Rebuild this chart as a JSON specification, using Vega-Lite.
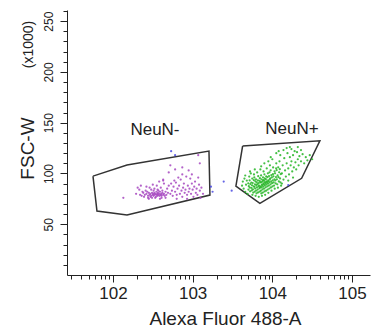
{
  "$schema": "https://vega.github.io/schema/vega-lite/v6.json",
  "autosize": "none",
  "width": 303,
  "height": 265,
  "padding": {"left": 67, "top": 10, "right": 5, "bottom": 54},
  "background": "white",
  "config": {"view": {"stroke": null}, "font": "Liberation Sans"},
  "resolve": {"axis": {"x": "independent", "y": "independent"}},
  "layer": [
    {
      "data": {
        "values": "g,o,x,y\nneg,1,1.749,97.4\nneg,2,2.176,108.3\nneg,3,3.205,122\nneg,4,3.217,78.7\nneg,5,2.176,59.1\nneg,6,1.799,63\nneg,7,1.749,97.4\npos,1,3.627,127\npos,2,4.597,132.2\npos,3,4.368,95.2\npos,4,3.844,70.6\npos,5,3.543,87.6\npos,6,3.627,127",
        "format": {"type": "csv", "parse": {"o": "number", "x": "number", "y": "number"}}
      },
      "mark": {"type": "line", "color": "#333333", "strokeWidth": 1.5},
      "encoding": {
        "x": {
          "field": "x", "type": "quantitative",
          "scale": {"domain": [1.423, 5.226], "nice": false, "zero": false},
          "axis": {
            "orient": "bottom", "values": [2, 3, 4, 5], "labelExpr": "'10' + datum.value",
            "tickSize": 7, "tickColor": "#222", "domainColor": "#222", "grid": false,
            "labelFont": "Liberation Sans", "labelFontSize": 17, "labelColor": "#222", "labelPadding": 3,
            "title": "Alexa Fluor 488-A", "titleFont": "Liberation Sans", "titleFontSize": 19,
            "titleFontWeight": "normal", "titleColor": "#222", "titleX": 158, "titleY": 43, "titleBaseline": "middle"
          }
        },
        "y": {
          "field": "y", "type": "quantitative",
          "scale": {"domain": [0, 261], "nice": false},
          "axis": {
            "orient": "left", "values": [50, 100, 150, 200, 250],
            "tickSize": 7, "tickColor": "#222", "domainColor": "#222", "grid": false,
            "labelFont": "Liberation Sans", "labelFontSize": 12, "labelColor": "#222",
            "labelAngle": -90, "labelAlign": "center", "labelBaseline": "bottom", "labelPadding": 5,
            "title": "FSC-W", "titleFont": "Liberation Sans", "titleFontSize": 19, "titleFontWeight": "normal",
            "titleColor": "#222", "titleX": -40, "titleY": 138, "titleBaseline": "middle", "titleAngle": -90
          }
        },
        "detail": {"field": "g"},
        "order": {"field": "o"}
      }
    },
    {
      "data": {
        "values": "s,x,y\np,2.40,79\np,2.42,80\np,2.44,78\np,2.45,81\np,2.46,79\np,2.47,80\np,2.48,78\np,2.49,81\np,2.50,79\np,2.505,80\np,2.51,78\np,2.52,81\np,2.525,79\np,2.53,80\np,2.54,77\np,2.545,82\np,2.55,79\np,2.555,80\np,2.56,78\np,2.565,81\np,2.57,79\np,2.58,80\np,2.585,78\np,2.59,82\np,2.60,79\np,2.605,80\np,2.61,78\np,2.62,81\np,2.63,79\np,2.64,80\np,2.65,78\np,2.66,82\np,2.43,82\np,2.47,77\np,2.51,83\np,2.53,76\np,2.57,83\np,2.61,76\np,2.38,81\np,2.36,78\np,2.39,77\np,2.41,83\np,2.44,76\np,2.48,84\np,2.52,85\np,2.56,84\np,2.49,76\np,2.62,83\np,2.67,79\np,2.69,81\np,2.31,86\np,2.33,84\np,2.35,88\np,2.37,82\np,2.29,80\np,2.42,87\np,2.46,86\np,2.55,88\np,2.60,86\np,2.64,90\np,2.58,92\np,2.68,85\np,2.70,88\np,2.63,93\np,2.50,89\np,2.34,79\np,2.45,75\np,2.59,75\np,2.66,76\np,2.72,80\np,2.74,83\np,2.75,78\np,2.76,87\np,2.78,82\np,2.79,91\np,2.80,79\np,2.81,85\np,2.83,88\np,2.84,80\np,2.85,94\np,2.86,83\np,2.87,77\np,2.88,86\np,2.89,90\np,2.90,81\np,2.91,84\np,2.92,97\np,2.93,79\np,2.94,88\np,2.95,82\np,2.96,85\np,2.97,95\np,2.98,80\np,2.99,90\np,3.00,84\np,3.01,77\np,3.02,87\np,3.03,92\np,3.04,81\np,3.05,85\np,3.06,79\np,3.08,89\np,3.09,83\np,3.10,76\np,3.11,86\np,3.13,80\np,2.82,96\np,2.77,93\np,2.73,90\np,2.87,99\np,2.99,99\np,3.07,96\np,2.93,75\np,2.80,75\np,2.63,94\np,2.72,108\np,2.87,106\np,3.07,118\np,3.09,110\np,2.70,101\np,2.95,103\np,2.78,104\np,2.13,76\nb,2.73,122\nb,2.78,118\nb,3.23,87\nb,3.25,82\nb,3.39,92\nb,3.49,83\nb,4.20,88.6\ng,3.70,84.2\ng,3.705,87.5\ng,3.698,90.3\ng,3.721,82.4\ng,3.717,86.1\ng,3.724,89.6\ng,3.715,93.2\ng,3.742,83.3\ng,3.738,85.8\ng,3.745,88.4\ng,3.736,91.1\ng,3.748,95.0\ng,3.761,81.2\ng,3.757,84.4\ng,3.765,87.3\ng,3.754,90.6\ng,3.768,93.4\ng,3.779,82.1\ng,3.784,85.2\ng,3.776,86.9\ng,3.782,89.3\ng,3.788,92.2\ng,3.774,96.1\ng,3.802,80.4\ng,3.797,83.2\ng,3.806,86.3\ng,3.799,88.5\ng,3.804,91.3\ng,3.795,94.2\ng,3.821,81.3\ng,3.817,84.1\ng,3.826,87.2\ng,3.814,89.4\ng,3.828,90.5\ng,3.819,93.1\ng,3.823,97.3\ng,3.842,82.2\ng,3.838,85.4\ng,3.846,86.3\ng,3.835,88.1\ng,3.848,91.2\ng,3.841,92.6\ng,3.844,95.3\ng,3.862,80.3\ng,3.857,83.1\ng,3.866,86.2\ng,3.855,87.4\ng,3.868,89.1\ng,3.861,91.4\ng,3.864,94.2\ng,3.859,98.1\ng,3.881,81.2\ng,3.877,84.3\ng,3.886,87.1\ng,3.874,88.4\ng,3.888,90.2\ng,3.879,92.1\ng,3.884,93.4\ng,3.883,96.2\ng,3.902,82.3\ng,3.897,85.1\ng,3.906,88.2\ng,3.894,89.3\ng,3.908,91.4\ng,3.899,93.2\ng,3.904,95.1\ng,3.901,99.2\ng,3.922,83.1\ng,3.917,86.4\ng,3.926,89.2\ng,3.914,90.3\ng,3.928,92.1\ng,3.919,94.4\ng,3.923,97.2\ng,3.942,84.1\ng,3.937,87.3\ng,3.946,90.1\ng,3.934,91.4\ng,3.948,93.2\ng,3.939,96.3\ng,3.944,100.2\ng,3.962,85.2\ng,3.957,88.1\ng,3.966,91.3\ng,3.954,92.2\ng,3.968,94.1\ng,3.959,97.4\ng,3.964,101.1\ng,3.982,86.3\ng,3.977,89.2\ng,3.986,92.1\ng,3.974,95.2\ng,3.988,98.3\ng,3.979,103.1\ng,4.002,87.2\ng,3.997,90.4\ng,4.006,93.2\ng,3.994,96.1\ng,4.008,99.3\ng,4.022,88.1\ng,4.017,91.2\ng,4.026,94.3\ng,4.014,97.2\ng,4.028,102.1\ng,4.042,90.2\ng,4.037,93.1\ng,4.046,96.4\ng,4.034,100.2\ng,4.048,105.1\ng,4.062,89.3\ng,4.057,94.2\ng,4.066,98.1\ng,4.054,103.2\ng,4.082,92.1\ng,4.077,96.3\ng,4.086,101.2\ng,4.074,106.1\ng,4.102,91.2\ng,4.097,95.1\ng,4.106,99.4\ng,4.094,104.2\ng,3.62,88\ng,3.63,92\ng,3.64,85\ng,3.65,95\ng,3.66,82\ng,3.67,89\ng,3.68,93\ng,3.66,98\ng,3.69,80\ng,3.71,97\ng,3.73,100\ng,3.75,79\ng,3.77,99\ng,3.79,78\ng,3.81,101\ng,3.83,77\ng,3.85,104\ng,3.87,78\ng,3.89,102\ng,3.91,79\ng,3.93,105\ng,3.95,81\ng,3.97,108\ng,3.99,83\ng,4.01,106\ng,4.03,85\ng,4.05,110\ng,4.07,86\ng,4.09,112\ng,4.11,88\ng,4.12,100\ng,4.13,108\ng,4.14,94\ng,4.15,115\ng,4.16,103\ng,4.17,97\ng,4.18,125\ng,4.18,110\ng,4.19,120\ng,4.20,105\ng,4.21,99\ng,4.22,116\ng,4.23,108\ng,4.24,112\ng,4.25,102\ng,4.26,118\ng,4.27,106\ng,4.28,122\ng,4.29,111\ng,4.30,104\ng,4.31,121\ng,4.32,114\ng,4.33,108\ng,4.34,117\ng,4.36,112\ng,4.38,119\ng,4.40,110\ng,4.42,116\ng,4.44,113\ng,4.47,118\ng,4.50,114\ng,4.05,120\ng,4.10,118\ng,4.14,123\ng,4.00,114\ng,3.95,112\ng,3.90,110\ng,4.24,124\ng,4.36,123\ng,3.86,107\ng,4.12,90\ng,4.20,93\ng,4.26,96\ng,3.78,104\ng,3.72,102\ng,3.98,116\ng,4.08,122\ng,4.22,126\ng,4.32,126",
        "format": {"type": "csv", "parse": {"x": "number", "y": "number"}}
      },
      "mark": {"type": "circle", "size": 5, "opacity": 0.85},
      "encoding": {
        "x": {
          "field": "x", "type": "quantitative",
          "axis": {
            "orient": "bottom",
            "values": [1.47712, 1.60206, 1.69897, 1.77815, 1.8451, 1.90309, 1.95424, 2.30103, 2.47712, 2.60206, 2.69897, 2.77815, 2.8451, 2.90309, 2.95424, 3.30103, 3.47712, 3.60206, 3.69897, 3.77815, 3.8451, 3.90309, 3.95424, 4.30103, 4.47712, 4.60206, 4.69897, 4.77815, 4.8451, 4.90309, 4.95424],
            "tickSize": 4, "tickColor": "#222", "domain": false, "labels": false, "grid": false, "title": null
          }
        },
        "y": {
          "field": "y", "type": "quantitative",
          "axis": {
            "orient": "left",
            "values": [10, 20, 30, 40, 60, 70, 80, 90, 110, 120, 130, 140, 160, 170, 180, 190, 210, 220, 230, 240, 260],
            "tickSize": 4, "tickColor": "#222", "domain": false, "labels": false, "grid": false,
            "title": "(x1000)", "titleFont": "Liberation Sans", "titleFontSize": 14, "titleFontWeight": "normal",
            "titleColor": "#222", "titleX": -39, "titleY": 34, "titleBaseline": "middle", "titleAngle": -90
          }
        },
        "color": {
          "field": "s", "type": "nominal", "legend": null,
          "scale": {"domain": ["p", "g", "b"], "range": ["#a646c0", "#25b525", "#4a4ae0"]}
        }
      }
    },
    {
      "data": {"values": [{"label": "NeuN-", "x": 2.527, "y": 142.7}, {"label": "NeuN+", "x": 4.246, "y": 143.7}]},
      "mark": {"type": "text", "font": "Liberation Sans", "fontSize": 17, "color": "#222", "baseline": "middle", "align": "center"},
      "encoding": {
        "x": {"field": "x", "type": "quantitative", "axis": null},
        "y": {"field": "y", "type": "quantitative", "axis": null},
        "text": {"field": "label"}
      }
    }
  ]
}
